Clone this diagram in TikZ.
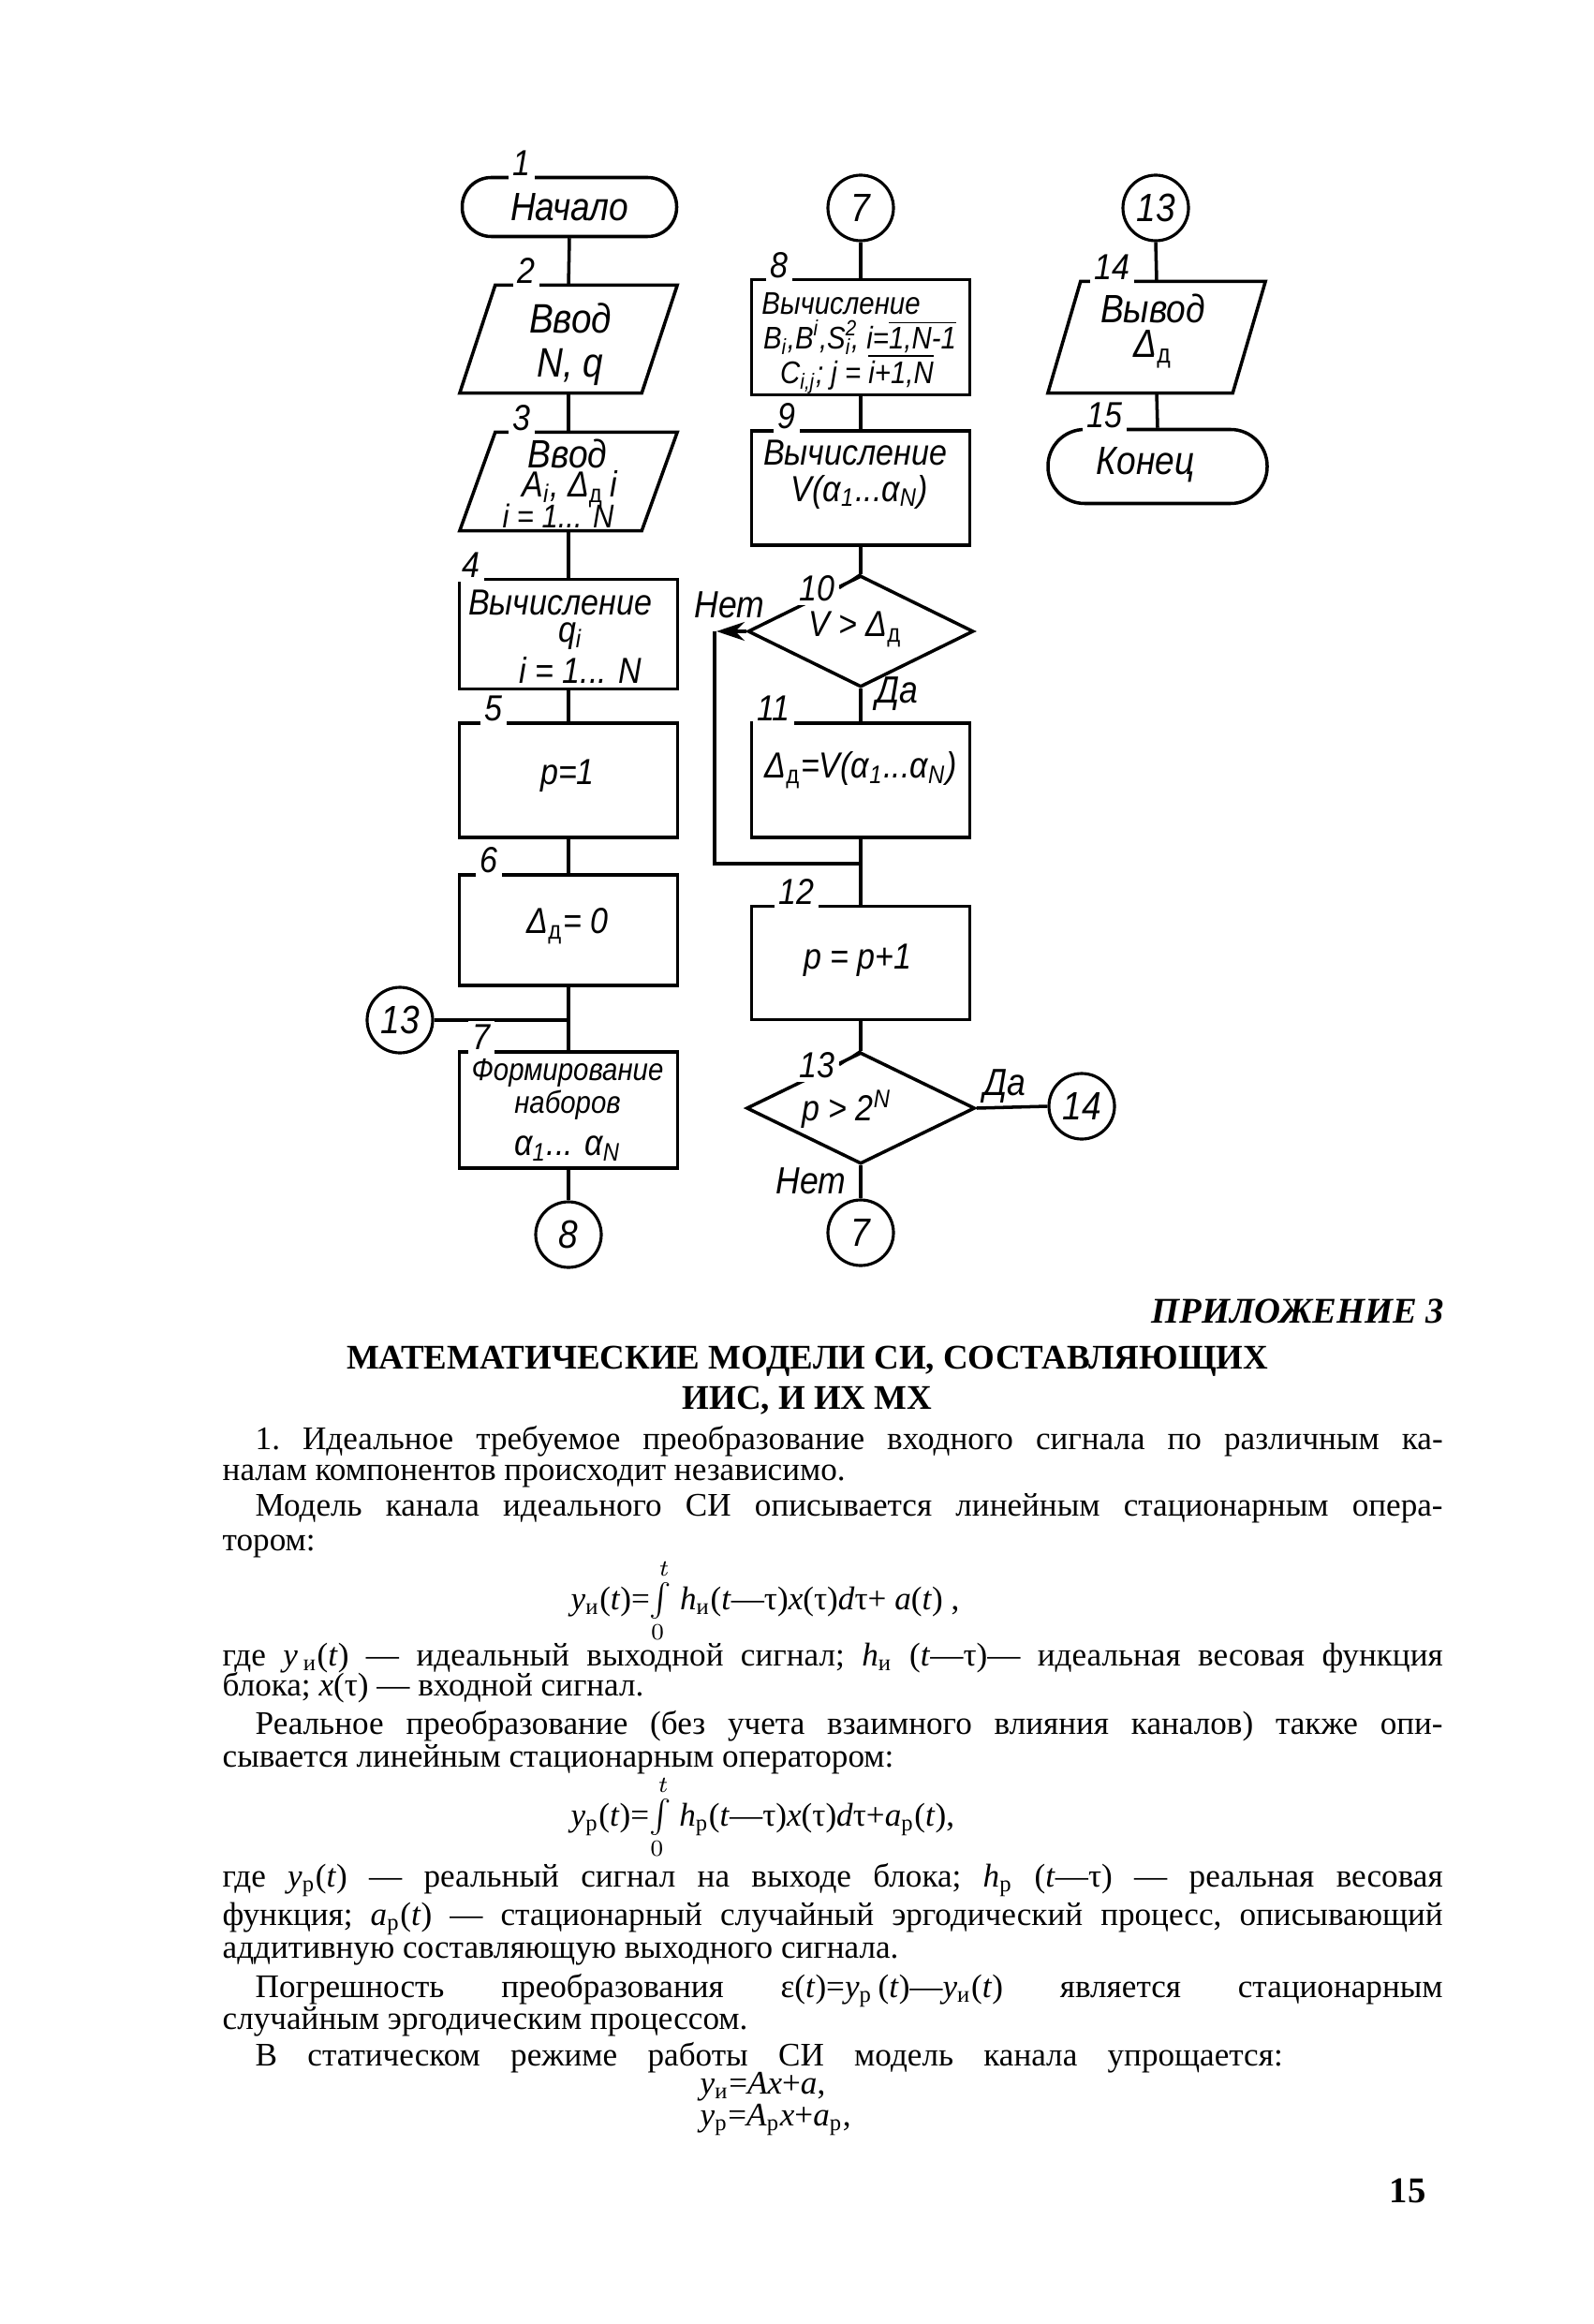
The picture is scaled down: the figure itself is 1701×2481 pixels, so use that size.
\documentclass[tikz,border=0pt]{standalone}
\usepackage{fontspec}
\setmainfont{Liberation Serif}
\newfontfamily\draft[FakeStretch=0.88]{Liberation Sans}
\usetikzlibrary{shapes.geometric,arrows.meta,calc}
\newcommand\paral[2]{\draw[shp] ([xshift=#2]#1.north west) -- ([xshift=#2]#1.north east) -- ([xshift=-#2]#1.south east) -- ([xshift=-#2]#1.south west) -- cycle;}
\newcommand\dd{\textsubscript{\upshape д}}
\newcommand\myint{$\int\limits_{0}^{t}$}
\tikzset{
  shp/.style={line width=1pt},
  box/.style={draw, line width=1pt, inner sep=0pt, minimum width=23.3mm},
  pnode/.style={inner sep=0pt},
  term/.style={draw, line width=1pt, inner sep=0pt, font=\draft\itshape\fontsize{12}{12}\selectfont},
  dia/.style={draw, diamond, line width=1pt, inner sep=0pt},
  circ/.style={draw, circle, line width=0.9pt, minimum size=7mm, inner sep=0pt, font=\draft\itshape\fontsize{12}{12}\selectfont},
  txt/.style={inner sep=0pt, font=\draft\itshape\fontsize{11}{11}\selectfont},
  stxt/.style={inner sep=0pt, font=\draft\itshape\fontsize{9.5}{9.5}\selectfont},
  lab/.style={anchor=south, fill=white, inner sep=1.3pt, font=\draft\itshape\fontsize{11}{11}\selectfont},
  dlab/.style={fill=white, inner sep=1.3pt, font=\draft\itshape\fontsize{11}{11}\selectfont},
  yn/.style={inner sep=0pt, font=\draft\itshape\fontsize{11.5}{11.5}\selectfont},
  conn/.style={line width=1pt},
  bl/.style={anchor=base west, inner sep=0pt, font=\fontsize{10}{11}\selectfont\frenchspacing},
}
\begin{document}
\begin{tikzpicture}[x=0.1mm,y=-0.1mm]
\path[use as bounding box, fill=white] (0,0) rectangle (1701,2481);

% ---------- left column ----------
\node[term, minimum width=22.9mm, minimum height=6.3mm, rounded corners=3.1mm] (n1) at (608,221) {Начало};
\node[pnode, minimum width=19.3mm, minimum height=11.4mm] (p2) at (607,362) {};
\paral{p2}{1.9mm}
\node[txt, font=\draft\itshape\fontsize{12.5}{12.5}\selectfont] (p2a) at (609,340) {Ввод};
\node[txt, font=\draft\itshape\fontsize{12.5}{12.5}\selectfont] (p2b) at (609,392) {N, q};
\node[pnode, minimum width=19.3mm, minimum height=10.4mm] (p3) at (607,514) {};
\paral{p3}{1.9mm}
\node[txt, font=\draft\itshape\fontsize{12}{12}\selectfont] (p3a) at (606,484) {Ввод};
\node[txt] (p3b) at (608,522) {A\textsubscript{i}, Δ\dd\,i};
\node[txt, font=\draft\itshape\fontsize{10}{10}\selectfont] (p3c) at (596,551) {i = 1... N};
\node[box, minimum height=11.7mm] (b4) at (607,677) {};
\node[txt] (b4a) at (598,643) {Вычисление};
\node[txt] (b4b) at (609,679) {q\textsubscript{i}};
\node[txt] (b4c) at (620,715) {i = 1... N};
\node[box, minimum height=12.2mm] (b5) at (607,833) {};
\node[txt] (b5a) at (606,828) {p=1};
\node[box, minimum height=11.8mm] (b6) at (607,993) {};
\node[txt] (b6a) at (606,989) {Δ\dd= 0};
\node[box, minimum height=12.4mm] (b7) at (607,1185) {};
\node[stxt] (b7a) at (606,1145) {Формирование};
\node[stxt] (b7b) at (606,1180) {наборов};
\node[txt] (b7c) at (606,1226) {α\textsubscript{1}... α\textsubscript{N}};
\node[circ] (c8) at (607,1318) {8};
\node[circ] (c13L) at (427,1089) {13};

\draw[conn] (n1.south) -- (p2.north);
\draw[conn] (p2.south) -- (p3.north);
\draw[conn] (p3.south) -- (b4.north);
\draw[conn] (b4.south) -- (b5.north);
\draw[conn] (b5.south) -- (b6.north);
\draw[conn] (b6.south) -- (b7.north);
\draw[conn] (b7.south) -- (c8.north);
\draw[conn] (c13L.east) -- (c13L.east -| b7.north);

% ---------- middle column ----------
\node[circ] (c7a) at (919,222) {7};
\node[box, minimum height=12.3mm] (b8) at (919,360) {};
\node[stxt] (b8a) at (898,324) {Вычисление};
\node[stxt] (b8b) at (918,360) {B\textsubscript{i},B\textsuperscript{i},S\rlap{\textsuperscript{2}}\textsubscript{i}, i=$\overline{\hbox{1,N-1}}$};
\node[stxt] (b8c) at (915,399) {C\textsubscript{i,j}; j = $\overline{\hbox{i+1,N}}$};
\node[box, minimum height=12.2mm] (b9) at (919,521) {};
\node[txt] (b9a) at (913,483) {Вычисление};
\node[txt] (b9b) at (918,525) {V(α\textsubscript{1}...α\textsubscript{N})};
\node[dia, minimum width=24.1mm, minimum height=11.9mm] (d10) at (919,674) {};
\node[txt] (d10t) at (913,672) {V > Δ\dd};
\node[box, minimum height=12.2mm] (b11) at (919,833) {};
\node[txt] (b11a) at (919,822) {Δ\dd=V(α\textsubscript{1}...α\textsubscript{N})};
\node[box, minimum height=12.1mm] (b12) at (919,1028) {};
\node[txt] (b12a) at (916,1025) {p = p+1};
\node[dia, minimum width=24.4mm, minimum height=11.9mm] (d13) at (919,1183) {};
\node[txt] (d13t) at (904,1184) {p > 2\textsuperscript{N}};
\node[circ] (c14) at (1155,1181) {14};
\node[circ] (c7b) at (919,1316) {7};

\coordinate (jn) at (919,922);
\coordinate (lc) at (763,674);
\coordinate (lt) at (765,674);
\draw[conn] (c7a.south) -- (b8.north);
\draw[conn] (b8.south) -- (b9.north);
\draw[conn] (b9.south) -- (d10.north);
\draw[conn] (d10.south) -- (b11.north);
\draw[conn] (b11.south) -- (b12.north);
\draw[conn] (b12.south) -- (d13.north);
\draw[conn] (d13.south) -- (c7b.north);
\draw[conn] (d13.east) -- (c14.west);
\draw[conn, -{Stealth[length=3mm,width=2mm]}] (d10.west) -- (lt);
\draw[conn] (lc) -- (lc |- jn) -- (jn);

% ---------- right column ----------
\node[circ] (c13R) at (1234,222) {13};
\node[pnode, minimum width=19.6mm, minimum height=11.8mm] (p14) at (1235,360) {};
\paral{p14}{1.75mm}
\node[txt, font=\draft\itshape\fontsize{12}{12}\selectfont] (p14a) at (1231,329) {Вывод};
\node[txt, font=\draft\itshape\fontsize{12}{12}\selectfont] (p14b) at (1231,373) {Δ\dd};
\node[term, minimum width=23.4mm, minimum height=7.9mm, rounded corners=3.9mm] (t15) at (1236,498) {};
\node[txt, font=\draft\itshape\fontsize{12}{12}\selectfont] (t15a) at (1223,496) {Конец};
\draw[conn] (c13R.south) -- (p14.north);
\draw[conn] (p14.south) -- (t15.north);

% ---------- block numbers ----------
\node[lab] (l1) at (557,193) {1};
\node[lab] (l2) at (562,308) {2};
\node[lab] (l3) at (557,465) {3};
\node[lab] (l4) at (503,622) {4};
\node[lab] (l5) at (527,775) {5};
\node[lab] (l6) at (522,937) {6};
\node[lab] (l7) at (514,1126) {7};
\node[lab] (l8) at (832,302) {8};
\node[lab] (l9) at (840,463) {9};
\node[lab] (l11) at (826,775) {11};
\node[lab] (l12) at (850,971) {12};
\node[lab] (l14) at (1187,304) {14};
\node[lab] (l15) at (1179,462) {15};
\node[dlab] (l10) at (872,628) {10};
\node[dlab] (l13) at (872,1137) {13};
\draw[line width=0.7pt] (l10.east) -- (d10.north);
\draw[line width=0.7pt] (l13.east) -- (d13.north);

% ---------- yes / no ----------
\node[yn] (y10n) at (779,646) {Нет};
\node[yn] (y10y) at (958,741) {Да};
\node[yn] (y13y) at (1073,1160) {Да};
\node[yn] (y13n) at (866,1261) {Нет};

% ---------- page text ----------
\node[anchor=east, inner sep=0pt, font=\fontsize{11}{12}\selectfont\bfseries\itshape] (app) at (1543,1400) {ПРИЛОЖЕНИЕ 3};
\node[inner sep=0pt, font=\fontsize{10.5}{12}\selectfont\bfseries] (h1) at (862,1453) {МАТЕМАТИЧЕСКИЕ МОДЕЛИ СИ, СОСТАВЛЯЮЩИХ};
\node[inner sep=0pt, font=\fontsize{10.5}{12}\selectfont\bfseries] (h2) at (862,1495) {ИИС, И ИХ МХ};

\node[bl] (L1) at (272,1547) {\makebox[126.8mm][s]{1. Идеальное требуемое преобразование входного сигнала по различным ка-}};
\node[bl] (L2) at (237,1580) {налам компонентов происходит независимо.};
\node[bl] (L3) at (272,1618) {\makebox[126.8mm][s]{Модель канала идеального СИ описывается линейным стационарным опера-}};
\node[bl] (L4) at (237,1655) {тором:};
\node[bl] (F1) at (609,1718) {\textit{y}\textsubscript{и}(\textit{t})=\myint\ \textit{h}\textsubscript{и}(\textit{t}—τ)\textit{x}(τ)\textit{d}τ+ \textit{a}(\textit{t}) ,};
\node[bl] (L5) at (237,1778) {\makebox[130.3mm][s]{где \textit{y}\,\textsubscript{и}(\textit{t}) — идеальный выходной сигнал; \textit{h}\textsubscript{и} (\textit{t}—τ)— идеальная весовая функция}};
\node[bl] (L6) at (237,1810) {блока; \textit{x}(τ) — входной сигнал.};
\node[bl] (L7) at (272,1851) {\makebox[126.8mm][s]{Реальное преобразование (без учета взаимного влияния каналов) также опи-}};
\node[bl] (L8) at (237,1886) {сывается линейным стационарным оператором:};
\node[bl] (F2) at (609,1949) {\textit{y}\textsubscript{р}(\textit{t})=\myint\ \textit{h}\textsubscript{р}(\textit{t}—τ)\textit{x}(τ)\textit{d}τ+\textit{a}\textsubscript{р}(\textit{t}),};
\node[bl] (L9) at (237,2014) {\makebox[130.3mm][s]{где \textit{y}\textsubscript{р}(\textit{t}) — реальный сигнал на выходе блока; \textit{h}\textsubscript{р} (\textit{t}—τ) — реальная весовая}};
\node[bl] (L10) at (237,2055) {\makebox[130.3mm][s]{функция; \textit{a}\textsubscript{р}(\textit{t}) — стационарный случайный эргодический процесс, описывающий}};
\node[bl] (L11) at (237,2090) {аддитивную составляющую выходного сигнала.};
\node[bl] (L12) at (272,2132) {\makebox[126.8mm][s]{Погрешность преобразования ε(\textit{t})=\textit{y}\textsubscript{р}\,(\textit{t})—\textit{y}\textsubscript{и}(\textit{t}) является стационарным}};
\node[bl] (L13) at (237,2166) {случайным эргодическим процессом.};
\node[bl] (L14) at (272,2205) {\makebox[109.7mm][s]{В статическом режиме работы СИ модель канала упрощается:}};
\node[bl] (F3) at (747,2235) {\textit{y}\textsubscript{и}=\textit{Ax}+\textit{a},};
\node[bl] (F4) at (747,2269) {\textit{y}\textsubscript{р}=\textit{A}\textsubscript{р}\textit{x}+\textit{a}\textsubscript{р},};
\node[inner sep=0pt, font=\fontsize{11}{12}\selectfont\bfseries] (pg) at (1503,2339) {15};
\end{tikzpicture}
\end{document}
